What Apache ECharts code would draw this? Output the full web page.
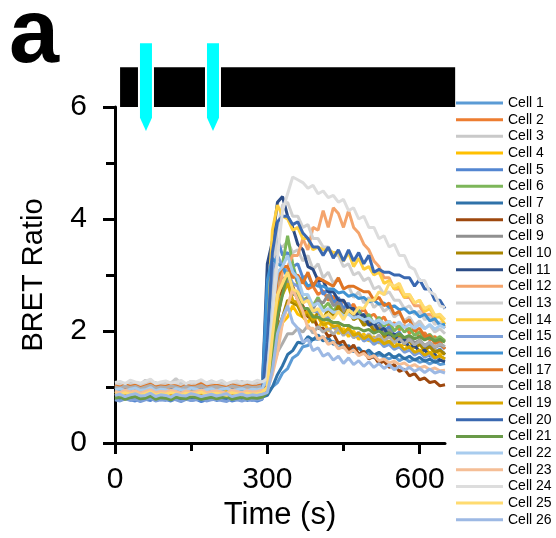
<!DOCTYPE html>
<html><head><meta charset="utf-8">
<script src="https://cdn.jsdelivr.net/npm/echarts@6/dist/echarts.min.js"></script>
<style>html,body{margin:0;padding:0;background:#fff}#c{width:556px;height:538px}</style>
</head><body><div id="c"></div>
<script>
const times = [0,10,20,30,40,50,60,70,80,90,100,110,120,130,140,150,160,170,180,190,200,210,220,230,240,250,260,270,280,290,300,310,320,330,340,350,360,370,380,390,400,410,420,430,440,450,460,470,480,490,500,510,520,530,540,550,560,570,580,590,600,610,620,630,640,650];
const xTicks = [0,300,600];
const xMinorTicks = [150,450];
const stimTimes = [61,193];
const barRange = [10,670];

const cell1 = [0.86,0.84,0.88,0.85,0.87,0.83,0.86,0.88,0.85,0.84,0.87,0.86,0.83,0.85,0.88,0.86,0.84,0.87,0.85,0.83,0.86,0.88,0.84,0.85,0.87,0.83,0.86,0.85,0.84,0.87,
 0.9,1.0,1.08,1.25,1.33,1.52,1.58,1.72,1.74,1.86,1.85,1.9,1.78,1.82,1.7,1.74,1.62,1.68,1.57,1.62,1.6,1.52,1.58,1.54,1.5,1.55,1.47,1.52,1.45,1.5,1.44,1.47,1.41,1.46,1.4,1.42];
const cell2 = [1.0,0.98,1.02,0.97,1.01,1.03,0.99,0.97,1.02,1.0,0.98,1.04,1.0,0.97,1.01,0.99,1.03,0.98,1.0,1.02,0.97,1.01,1.05,0.99,0.98,1.03,1.0,0.97,1.02,1.0,
 1.1,1.7,2.2,2.8,2.95,3.1,2.85,2.9,2.75,2.8,2.65,2.72,2.55,2.62,2.45,2.55,2.38,2.48,2.3,2.4,2.25,2.3,2.18,2.25,2.08,2.15,2.02,2.1,1.96,2.04,1.88,1.97,1.84,1.9,1.8,1.84];
const cell3 = [1.06,1.08,1.04,1.1,1.07,1.05,1.12,1.06,1.08,1.04,1.09,1.07,1.15,1.06,1.05,1.1,1.08,1.04,1.07,1.11,1.06,1.09,1.05,1.08,1.06,1.1,1.07,1.05,1.08,1.06,
 1.6,2.9,3.55,3.5,3.6,3.4,3.45,3.25,3.35,3.1,3.2,2.95,3.05,2.85,2.95,2.75,2.8,2.6,2.7,2.5,2.6,2.42,2.5,2.35,2.42,2.25,2.32,2.18,2.25,2.1,2.18,2.05,2.1,1.98,2.04,1.95];
const cell4 = [0.92,0.9,0.94,0.91,0.93,0.89,0.92,0.95,0.9,0.93,0.91,0.94,0.92,0.89,0.93,0.96,0.91,0.92,0.9,0.94,0.93,0.91,0.95,0.92,0.9,0.93,0.94,0.91,0.92,0.93,
 1.0,1.45,1.8,2.15,2.25,2.45,2.3,2.25,2.15,2.3,2.05,2.2,2.0,2.1,1.95,2.05,1.9,2.0,1.85,1.95,1.82,1.9,1.78,1.88,1.75,1.82,1.7,1.78,1.68,1.75,1.64,1.7,1.6,1.67,1.58,1.62];
const cell5 = [0.78,0.76,0.8,0.77,0.75,0.79,0.78,0.76,0.81,0.77,0.78,0.75,0.79,0.77,0.8,0.76,0.78,0.74,0.77,0.79,0.76,0.78,0.8,0.75,0.77,0.79,0.76,0.78,0.75,0.78,
 2.6,3.5,3.65,3.35,3.4,3.15,3.2,2.95,3.0,2.8,2.9,2.65,2.75,2.5,2.6,2.4,2.5,2.3,2.38,2.2,2.28,2.1,2.18,2.0,2.08,1.92,1.98,1.85,1.9,1.78,1.82,1.7,1.75,1.62,1.68,1.58];
const cell6 = [0.82,0.8,0.84,0.81,0.83,0.79,0.82,0.85,0.8,0.81,0.83,0.8,0.84,0.82,0.79,0.83,0.81,0.8,0.84,0.82,0.8,0.83,0.81,0.79,0.82,0.84,0.8,0.82,0.81,0.83,
 0.9,1.6,2.5,3.2,3.7,3.2,2.85,2.55,2.6,2.45,2.6,2.4,2.5,2.35,2.48,2.3,2.42,2.25,2.35,2.2,2.3,2.12,2.25,2.08,2.18,2.0,2.1,1.98,2.05,1.92,1.98,1.88,1.94,1.84,1.9,1.82];
const cell7 = [0.8,0.78,0.82,0.79,0.81,0.77,0.8,0.83,0.78,0.8,0.79,0.82,0.8,0.77,0.81,0.79,0.8,0.83,0.78,0.8,0.81,0.79,0.77,0.82,0.8,0.78,0.81,0.79,0.8,0.82,
 0.85,1.0,1.22,1.38,1.58,1.65,1.8,1.78,1.9,1.84,1.93,1.82,1.88,1.76,1.8,1.7,1.74,1.63,1.7,1.6,1.66,1.57,1.62,1.55,1.6,1.52,1.58,1.5,1.55,1.48,1.53,1.46,1.5,1.44,1.48,1.45];
const cell8 = [0.95,0.93,0.97,0.94,0.96,0.92,0.95,0.98,0.93,0.95,0.94,0.97,0.95,0.92,0.96,0.94,0.95,0.98,0.93,0.95,0.96,0.94,0.92,0.97,0.95,0.93,0.96,0.94,0.95,0.97,
 1.0,1.55,2.2,2.75,2.85,2.8,2.55,2.45,2.25,2.25,2.05,2.05,1.9,1.95,1.78,1.82,1.66,1.75,1.58,1.64,1.5,1.55,1.42,1.46,1.35,1.4,1.28,1.32,1.2,1.24,1.13,1.16,1.08,1.1,1.02,1.04];
const cell9 = [0.98,1.0,0.96,0.99,1.01,0.97,0.98,1.02,0.96,0.99,1.0,0.97,0.98,1.01,0.96,0.99,0.98,1.02,0.97,0.99,1.0,0.96,0.98,1.01,0.97,0.99,1.0,0.98,0.96,0.99,
 1.3,2.3,2.95,2.95,2.9,2.65,2.65,2.5,2.6,2.4,2.55,2.5,2.65,2.45,2.5,2.35,2.4,2.25,2.3,2.15,2.2,2.05,2.1,1.95,2.02,1.9,1.95,1.84,1.9,1.78,1.84,1.74,1.8,1.7,1.75,1.68];
const cell10 = [0.88,0.86,0.9,0.87,0.89,0.85,0.88,0.91,0.86,0.88,0.87,0.9,0.88,0.85,0.89,0.87,0.88,0.91,0.86,0.88,0.89,0.87,0.85,0.9,0.88,0.86,0.89,0.87,0.88,0.9,
 0.95,1.5,2.05,2.25,2.55,2.5,2.45,2.25,2.3,2.15,2.35,2.2,2.4,2.25,2.45,2.25,2.4,2.2,2.25,2.1,2.15,2.0,2.05,1.9,1.95,1.84,1.9,1.76,1.82,1.7,1.76,1.66,1.72,1.62,1.66,1.58];
const cell11 = [0.95,0.92,0.96,0.94,0.93,0.97,0.95,0.92,0.94,0.96,0.93,0.95,0.97,0.92,0.94,0.96,0.95,0.93,0.91,0.95,0.97,0.94,0.92,0.96,0.95,0.93,0.94,0.96,0.92,0.95,
 3.2,3.6,4.3,4.4,4.05,3.85,3.55,3.45,3.15,3.1,2.9,2.9,2.7,2.7,2.55,2.55,2.4,2.4,2.25,2.3,2.1,2.15,2.0,2.05,1.9,1.95,1.8,1.85,1.7,1.75,1.62,1.66,1.55,1.58,1.48,1.46];
const cell12 = [1.0,1.02,0.98,1.01,1.03,0.99,1.0,1.04,0.98,1.01,1.0,0.97,1.02,1.0,0.99,1.03,1.01,0.98,1.0,1.02,0.99,1.01,1.03,0.98,1.0,1.02,0.99,1.01,1.0,1.02,
 1.05,1.8,2.6,3.05,3.15,3.35,3.35,3.65,3.45,3.85,3.8,4.15,3.85,4.2,4.1,3.85,4.15,3.85,3.75,3.55,3.45,3.25,3.15,2.95,2.95,2.75,2.75,2.6,2.6,2.45,2.45,2.28,2.3,2.15,2.15,2.05];
const cell13 = [1.05,1.03,1.07,1.04,1.06,1.02,1.05,1.08,1.03,1.05,1.04,1.07,1.05,1.02,1.06,1.04,1.05,1.08,1.03,1.05,1.06,1.04,1.02,1.07,1.05,1.03,1.06,1.04,1.05,1.07,
 1.4,2.8,3.85,4.25,4.3,4.05,4.05,3.85,3.9,3.65,3.65,3.5,3.5,3.35,3.35,3.15,3.2,3.0,3.05,2.9,2.95,2.75,2.8,2.65,2.7,2.55,2.55,2.4,2.45,2.3,2.35,2.2,2.25,2.12,2.16,2.08];
const cell14 = [0.9,0.92,0.88,0.91,0.93,0.89,0.9,0.94,0.88,0.91,0.9,0.87,0.92,0.9,0.89,0.93,0.91,0.88,0.9,0.92,0.89,0.91,0.93,0.88,0.9,0.92,0.89,0.91,0.9,0.92,
 2.2,3.8,4.25,4.05,4.0,3.8,3.85,3.65,3.65,3.45,3.5,3.45,3.45,3.4,3.4,3.25,3.4,3.15,3.3,3.1,3.15,3.0,3.05,2.85,2.9,2.75,2.8,2.6,2.65,2.5,2.55,2.35,2.4,2.25,2.25,2.12];
const cell15 = [0.77,0.75,0.79,0.76,0.78,0.74,0.77,0.8,0.75,0.77,0.76,0.79,0.77,0.74,0.78,0.76,0.77,0.8,0.75,0.77,0.78,0.76,0.74,0.79,0.77,0.75,0.78,0.76,0.77,0.79,
 2.0,3.1,3.35,3.15,3.05,2.85,2.8,2.55,2.55,2.35,2.35,2.2,2.25,2.05,2.1,1.95,2.0,1.88,1.94,1.82,1.86,1.76,1.82,1.72,1.76,1.67,1.72,1.62,1.66,1.57,1.62,1.53,1.58,1.5,1.55,1.5];
const cell16 = [0.93,0.91,0.95,0.92,0.94,0.9,0.93,0.96,0.91,0.93,0.92,0.95,0.93,0.9,0.94,0.92,0.93,0.96,0.91,0.93,0.94,0.92,0.9,0.95,0.93,0.91,0.94,0.92,0.93,0.95,
 2.9,3.3,3.2,3.15,2.95,3.1,2.9,2.95,2.8,2.85,2.8,2.8,2.75,2.75,2.68,2.7,2.62,2.65,2.58,2.6,2.52,2.55,2.48,2.5,2.42,2.45,2.38,2.4,2.32,2.35,2.25,2.3,2.18,2.22,2.1,2.12];
const cell17 = [1.02,1.0,1.04,1.01,1.03,0.99,1.02,1.05,1.0,1.02,1.01,1.04,1.02,0.99,1.03,1.01,1.02,1.06,1.0,1.02,1.03,1.01,0.99,1.04,1.02,1.0,1.03,1.01,1.02,1.04,
 1.2,2.2,2.95,3.15,3.15,2.95,3.0,2.85,3.05,2.8,2.95,2.9,2.85,2.8,2.95,2.75,2.8,2.8,2.75,2.7,2.7,2.55,2.6,2.45,2.5,2.3,2.35,2.15,2.2,2.0,2.05,1.9,1.92,1.78,1.8,1.68];
const cell18 = [1.0,0.98,1.02,0.99,1.01,0.97,1.0,1.03,0.98,1.0,0.99,1.02,1.0,0.97,1.01,0.99,1.0,1.03,0.98,1.0,1.01,0.99,0.97,1.02,1.0,0.98,1.01,0.99,1.0,1.02,
 1.05,1.3,1.62,1.78,1.95,1.95,2.05,1.98,2.1,1.96,2.08,1.98,2.04,1.94,2.04,1.92,2.0,1.88,1.98,1.86,1.95,1.84,1.93,1.82,1.9,1.79,1.87,1.77,1.85,1.75,1.83,1.73,1.8,1.71,1.77,1.72];
const cell19 = [0.88,0.9,0.86,0.89,0.91,0.87,0.88,0.92,0.86,0.89,0.88,0.85,0.9,0.88,0.87,0.91,0.89,0.86,0.88,0.9,0.87,0.89,0.91,0.86,0.88,0.9,0.87,0.89,0.88,0.9,
 0.95,1.7,2.45,2.65,2.85,2.55,2.5,2.3,2.35,2.2,2.25,2.1,2.15,2.08,2.1,1.96,2.06,1.92,1.96,1.86,1.92,1.82,1.86,1.77,1.82,1.72,1.76,1.67,1.72,1.62,1.66,1.57,1.62,1.52,1.56,1.5];
const cell20 = [0.9,0.88,0.92,0.89,0.91,0.87,0.9,0.93,0.88,0.9,0.89,0.92,0.9,0.87,0.91,0.89,0.9,0.93,0.88,0.9,0.91,0.89,0.87,0.92,0.9,0.88,0.91,0.89,0.9,0.92,
 1.8,3.4,3.95,4.05,4.05,3.9,3.95,3.75,3.65,3.5,3.5,3.35,3.5,3.3,3.45,3.25,3.45,3.25,3.4,3.2,3.35,3.05,3.1,3.05,3.05,3.0,3.0,2.95,2.95,2.8,2.92,2.75,2.75,2.55,2.55,2.4];
const cell21 = [0.8,0.82,0.78,0.81,0.83,0.79,0.8,0.84,0.78,0.81,0.8,0.77,0.82,0.8,0.79,0.83,0.81,0.78,0.8,0.82,0.79,0.81,0.83,0.78,0.8,0.82,0.79,0.81,0.8,0.82,
 0.9,1.5,2.25,2.65,3.05,2.75,2.65,2.4,2.4,2.25,2.25,2.2,2.2,2.15,2.15,2.1,2.1,2.05,2.05,2.0,2.03,1.96,2.0,1.94,1.97,1.9,1.95,1.88,1.92,1.86,1.9,1.84,1.88,1.82,1.85,1.8];
const cell22 = [0.95,0.97,0.93,0.96,0.98,0.94,0.95,0.99,0.93,0.96,0.95,0.92,0.97,0.95,0.94,0.98,0.96,0.93,0.95,0.97,0.94,0.96,0.98,0.93,0.95,0.97,0.94,0.96,0.95,0.97,
 1.2,2.4,3.05,3.15,3.35,3.05,2.95,2.65,2.65,2.45,2.5,2.35,2.4,2.33,2.35,2.27,2.3,2.23,2.26,2.2,2.23,2.15,2.2,2.13,2.17,2.1,2.16,2.06,2.12,2.05,2.12,2.04,2.12,2.03,2.1,2.05];
const cell23 = [0.92,0.9,0.94,0.91,0.93,0.89,0.92,0.95,0.9,0.92,0.91,0.94,0.92,0.89,0.93,0.91,0.92,0.95,0.9,0.92,0.93,0.91,0.89,0.94,0.92,0.9,0.93,0.91,0.92,0.94,
 0.95,1.22,1.6,2.15,2.45,2.75,2.55,2.35,2.05,2.05,1.85,1.9,1.76,1.8,1.68,1.72,1.61,1.66,1.56,1.6,1.52,1.56,1.47,1.5,1.43,1.46,1.4,1.43,1.36,1.4,1.34,1.37,1.31,1.34,1.29,1.3];
const cell24 = [1.08,1.1,1.06,1.12,1.09,1.07,1.1,1.14,1.06,1.09,1.11,1.07,1.08,1.12,1.06,1.1,1.09,1.13,1.07,1.1,1.08,1.12,1.06,1.09,1.11,1.07,1.1,1.08,1.12,1.09,
 1.15,2.2,3.3,4.15,4.45,4.75,4.7,4.65,4.55,4.6,4.45,4.5,4.38,4.42,4.3,4.35,4.15,4.2,4.0,4.05,3.85,3.85,3.65,3.7,3.5,3.55,3.35,3.35,3.15,3.1,2.9,2.9,2.7,2.65,2.45,2.42];
const cell25 = [0.88,0.86,0.9,0.87,0.89,0.85,0.88,0.91,0.86,0.88,0.87,0.9,0.88,0.85,0.89,0.87,0.88,0.91,0.86,0.88,0.89,0.87,0.85,0.9,0.88,0.86,0.89,0.87,0.88,0.9,
 1.0,1.9,2.65,2.85,3.05,2.75,2.7,2.5,2.55,2.35,2.4,2.25,2.3,2.22,2.35,2.2,2.38,2.3,2.42,2.4,2.55,2.55,2.7,2.65,2.85,2.8,2.85,2.65,2.65,2.5,2.55,2.4,2.45,2.28,2.3,2.2];
const cell26 = [0.85,0.87,0.83,0.86,0.88,0.84,0.85,0.89,0.83,0.86,0.85,0.82,0.87,0.85,0.84,0.88,0.86,0.83,0.85,0.87,0.84,0.86,0.88,0.83,0.85,0.87,0.84,0.86,0.85,0.87,
 0.9,1.3,1.95,2.25,2.45,2.15,2.05,1.8,1.85,1.65,1.7,1.55,1.6,1.48,1.55,1.42,1.52,1.4,1.47,1.37,1.45,1.35,1.42,1.33,1.4,1.31,1.37,1.3,1.35,1.28,1.33,1.26,1.32,1.25,1.28,1.25];

const cells = [cell1,cell2,cell3,cell4,cell5,cell6,cell7,cell8,cell9,cell10,cell11,cell12,cell13,cell14,cell15,cell16,cell17,cell18,cell19,cell20,cell21,cell22,cell23,cell24,cell25,cell26];
const names = cells.map((c,i)=>'Cell ' + (i+1));
const colors = ['#5B9BD5','#ED7D31','#C9C9C9','#FFC000','#5386D1','#7DB65A','#2F72A9','#9E480E','#909090','#A98600','#2B4C86','#F4A46C','#D0D0D0','#FFCF3F','#7C9FD8','#3F92D2','#E07524','#ADADAD','#D9A800','#3A68B0','#699A48','#A8CCEE','#F5BE96','#DDDDDD','#FFDB70','#9DB9E4'];

const FONT = 'Liberation Sans, Arial, sans-serif';
const chart = echarts.init(document.getElementById('c'), null, {renderer:'canvas'});
const series = cells.map((vals,i)=>({
  name: names[i], type:'line', xAxisIndex:0, yAxisIndex:0,
  data: times.map((t,k)=>[t, vals[k]]),
  symbol:'none', showSymbol:false, smooth:false,
  lineStyle:{width:3, color:colors[i]}, itemStyle:{color:colors[i]},
  emphasis:{disabled:true}, animation:false
}));

chart.setOption({
  animation:false,
  backgroundColor:'#fff',
  grid:{left:115, top:107, width:330, height:336, containLabel:false},
  xAxis:[{
    type:'value', min:0, max:650, position:'bottom',
    axisLine:{show:true, onZero:false, lineStyle:{color:'#000', width:3}},
    axisTick:{show:true, customValues:xTicks, length:11, lineStyle:{color:'#000', width:3}},
    axisLabel:{customValues:xTicks, fontSize:30, color:'#000', fontFamily:FONT, margin:22},
    splitLine:{show:false},
    name:'Time (s)', nameLocation:'middle', nameGap:54,
    nameTextStyle:{fontSize:31, color:'#000', fontFamily:FONT}
  },{
    type:'value', min:0, max:650, position:'bottom',
    axisLine:{show:false},
    axisTick:{show:true, customValues:xMinorTicks, length:8, lineStyle:{color:'#000', width:3}},
    axisLabel:{show:false}, splitLine:{show:false}
  }],
  yAxis:{
    type:'value', min:0, max:6, interval:2,
    axisLine:{show:true, lineStyle:{color:'#000', width:3}},
    axisTick:{show:true, length:12, lineStyle:{color:'#000', width:3}},
    minorTick:{show:true, splitNumber:2, length:9, lineStyle:{color:'#000', width:3}},
    axisLabel:{fontSize:30, color:'#000', fontFamily:FONT, margin:28},
    splitLine:{show:false}, minorSplitLine:{show:false},
    name:'BRET Ratio', nameLocation:'middle', nameGap:67, nameRotate:90,
    nameTextStyle:{fontSize:29, color:'#000', fontFamily:FONT}
  },
  legend:{
    data:names, orient:'vertical', left:456, top:96, padding:0,
    icon:'rect', itemWidth:47, itemHeight:3, itemGap:2.67,
    textStyle:{fontSize:14, color:'#000', fontFamily:FONT, lineHeight:14},
    selectedMode:false
  },
  series:series
});

const px = (x,y)=>chart.convertToPixel({gridIndex:0},[x,y]);
const g = [];
g.push({type:'text', left:9, top:-8, style:{text:'a', font:'bold 90px ' + FONT, fill:'#000'}});
const b0 = px(barRange[0], 6.71), b1 = px(barRange[1], 6);
g.push({type:'rect', shape:{x:b0[0], y:b0[1], width:b1[0]-b0[0], height:b1[1]-b0[1]}, style:{fill:'#000'}});
stimTimes.forEach(t=>{
  const c = px(t, 0);
  const top = px(t, 7.14)[1], shaftEnd = px(t, 5.81)[1], tip = px(t, 5.57)[1];
  const hw = 6;
  const pts = [[c[0]-hw,top],[c[0]+hw,top],[c[0]+hw,shaftEnd],[c[0],tip],[c[0]-hw,shaftEnd]];
  g.push({type:'polygon', shape:{points:pts}, style:{fill:'#00FFFF', stroke:'#fff', lineWidth:4}, z:10});
  g.push({type:'polygon', shape:{points:pts}, style:{fill:'#00FFFF'}, z:11});
});
chart.setOption({graphic:g});
</script></body></html>
